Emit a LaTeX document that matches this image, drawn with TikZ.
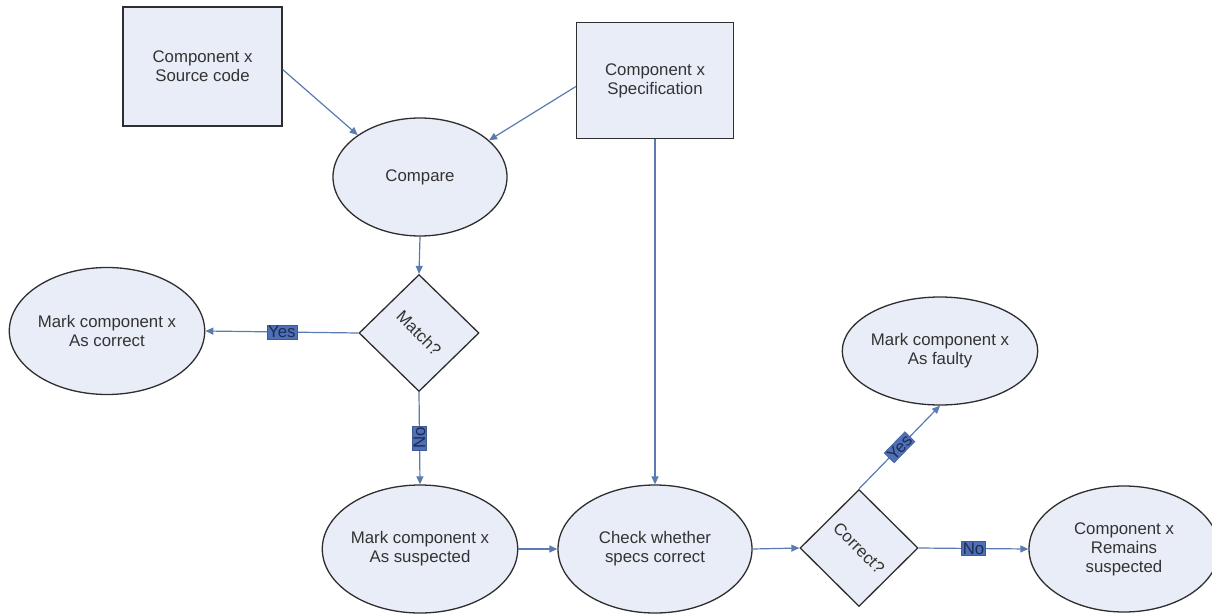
\documentclass[tikz,border=0pt]{standalone}
\usepackage{fontspec}
\setmainfont{Liberation Sans}
\usetikzlibrary{shapes.geometric,arrows.meta}
\definecolor{nodefill}{HTML}{E9EDF7}
\definecolor{nodeline}{HTML}{2E2E2E}
\definecolor{linkcol}{HTML}{5A7AB0}
\definecolor{lblfill}{HTML}{4F70B6}
\definecolor{lbltext}{HTML}{1B2C55}
\definecolor{txtcol}{HTML}{333333}
\tikzset{
  box/.style={rectangle, draw=nodeline, line width=1.3pt, fill=nodefill, align=center, text=txtcol, font=\fontsize{16.8}{19}\selectfont},
  oval/.style={ellipse, draw=nodeline, line width=1.3pt, fill=nodefill, align=center, text=txtcol, inner sep=0pt, font=\fontsize{16.8}{19}\selectfont},
  dec/.style={diamond, draw=nodeline, line width=1.3pt, fill=nodefill, inner sep=0pt},
  dectext/.style={rotate=-45, text=txtcol, font=\fontsize{16.8}{19}\selectfont},
  link/.style={draw=linkcol, line width=1.2pt, -{Triangle[length=8pt,width=7pt]}},
  lbl/.style={fill=lblfill, draw=lblfill!80!black, line width=0.4pt, text=lbltext, inner sep=1.2pt, font=\fontsize{16.8}{17}\selectfont},
}
\begin{document}
\begin{tikzpicture}[x=1pt,y=-1pt]
\useasboundingbox (0,0) rectangle (1212,613);
\fill[white] (0,0) rectangle (1212,613);
\node[box, minimum width=159pt, minimum height=119pt] (src) at (202.5,66.5) {Component x\\Source code};
\node[box, minimum width=157pt, minimum height=116pt] (spec) at (655,80.5) {Component x\\Specification};
\node[oval, minimum width=174pt, minimum height=118pt] (cmp) at (420,177) {Compare};
\node[dec, minimum width=120pt, minimum height=117pt] (match) at (419,333) {};
\node[dectext] (matcht) at (match) {Match?};
\node[oval, minimum width=190pt, minimum height=127pt] (ok) at (107,331) {Mark component x\\As correct};
\node[oval, minimum width=194pt, minimum height=128pt] (susp) at (420,549) {Mark component x\\As suspected};
\node[oval, minimum width=194pt, minimum height=128pt] (chk) at (655,549) {Check whether\\specs correct};
\node[dec, minimum width=118pt, minimum height=117pt] (corr) at (859,548) {};
\node[dectext] (corrt) at (corr) {Correct?};
\node[oval, minimum width=194pt, minimum height=108pt] (faulty) at (940,351) {Mark component x\\As faulty};
\node[oval, minimum width=190pt, minimum height=126pt] (rem) at (1124,549) {Component x\\Remains\\suspected};

\draw[link] ([yshift=-3pt]src.east) -- (cmp.146);
\draw[link] ([yshift=-6pt]spec.west) -- (cmp.28);
\draw[link] (cmp.south) -- (match.north);
\draw[link] (match.west) -- node[lbl] (lyes1) {Yes} (ok.east);
\draw[link] (match.south) -- node[lbl, rotate=90] (lno1) {No} (susp.north);
\draw[link] (spec.south) -- (chk.north);
\draw[link] (susp.east) -- (chk.west);
\draw[link] (chk.east) -- (corr.west);
\draw[link] (corr.north) -- node[lbl, sloped] (lyes2) {Yes} (faulty.south);
\draw[link] (corr.east) -- node[lbl] (lno2) {No} (rem.west);
\end{tikzpicture}
\end{document}
